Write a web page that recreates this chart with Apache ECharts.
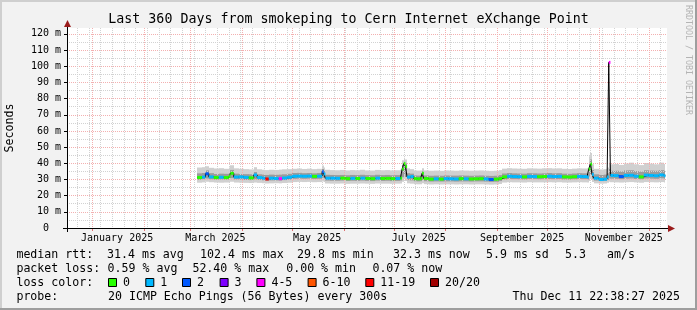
<!DOCTYPE html>
<html><head><meta charset="utf-8">
<script src="https://cdn.jsdelivr.net/npm/echarts@6/dist/echarts.min.js"></script>
<style>html,body{margin:0;padding:0;background:#f2f2f2}#c{width:697px;height:310px}</style>
</head><body><div id="c"></div>
<script>
// ---- data ----
const dates = ['2025-03-05','2025-03-08','2025-03-10','2025-03-12','2025-03-15','2025-03-18','2025-03-21','2025-03-24','2025-03-25','2025-03-27',
'2025-03-30','2025-04-02','2025-04-05','2025-04-08','2025-04-10','2025-04-13','2025-04-15','2025-04-17','2025-04-20','2025-04-23',
'2025-04-25','2025-04-28','2025-05-01','2025-05-04','2025-05-07','2025-05-10','2025-05-13','2025-05-16','2025-05-19','2025-05-20',
'2025-05-21','2025-05-24','2025-05-27','2025-05-30','2025-06-02','2025-06-05','2025-06-08','2025-06-11','2025-06-14','2025-06-17',
'2025-06-20','2025-06-23','2025-06-26','2025-06-29','2025-07-02','2025-07-05','2025-07-06','2025-07-07','2025-07-08','2025-07-09',
'2025-07-11','2025-07-13','2025-07-15','2025-07-17','2025-07-18','2025-07-19','2025-07-22','2025-07-25','2025-07-28','2025-07-31',
'2025-08-03','2025-08-06','2025-08-09','2025-08-12','2025-08-15','2025-08-18','2025-08-21','2025-08-24','2025-08-27','2025-08-30',
'2025-09-02','2025-09-04','2025-09-07','2025-09-10','2025-09-13','2025-09-16','2025-09-19','2025-09-22','2025-09-25','2025-09-28',
'2025-10-01','2025-10-04','2025-10-07','2025-10-10','2025-10-13','2025-10-16','2025-10-19','2025-10-22','2025-10-25','2025-10-26',
'2025-10-27','2025-10-28','2025-10-29','2025-11-01','2025-11-04','2025-11-06','2025-11-07','2025-11-08','2025-11-10','2025-11-13',
'2025-11-16','2025-11-19','2025-11-22','2025-11-25','2025-11-28','2025-12-01','2025-12-04','2025-12-07','2025-12-10','2025-12-11'];
const median = [31.2,31.5,33.5,31.6,31.2,31.4,31.2,32.0,33.8,31.5,
31.6,31.3,31.0,32.8,31.2,30.8,30.3,30.8,30.6,30.5,
30.9,31.4,32.0,32.1,32.0,32.1,31.9,32.0,34.8,33.4,
30.8,30.8,30.7,30.8,30.5,30.7,30.6,30.8,30.6,30.5,
30.8,30.6,30.7,30.5,30.6,30.8,36.5,39.8,38.0,31.5,
31.8,30.5,30.4,30.5,33.8,30.6,30.2,30.4,30.2,30.5,
30.4,30.3,30.5,30.4,30.3,30.4,30.5,30.3,30.0,30.2,
30.6,31.6,32.0,31.8,31.7,31.6,31.9,31.8,31.7,31.8,
32.0,31.8,31.9,31.6,31.5,31.7,31.9,31.8,31.6,36.5,
39.5,33.0,30.8,30.0,30.2,31.5,102.4,32.5,32.4,31.8,
32.5,32.6,32.0,31.6,32.7,32.5,32.3,32.8,32.3,32.3];
const lossCount = [0,1,2,1,0,1,0,0,0,1,
1,1,0,1,1,1,11,1,1,4,
1,1,1,1,1,1,0,1,2,1,
1,1,1,0,0,1,0,1,0,0,
1,0,0,0,1,0,0,0,0,1,
1,0,0,0,0,0,0,1,0,1,
1,1,0,1,0,0,0,1,2,0,
0,0,1,1,1,0,1,1,0,0,
1,1,1,0,0,0,1,1,1,0,
0,1,1,1,1,1,4,1,1,2,
1,1,1,0,1,1,1,1,1,1];
const smokeLo = [28.0,28.2,28.6,28.3,28.1,28.0,28.1,28.2,28.6,28.1,
28.0,27.9,27.8,28.1,27.9,27.7,27.5,27.6,27.7,27.6,
27.8,28.0,28.4,28.5,28.4,28.5,28.3,28.4,28.8,28.5,
27.5,27.4,27.4,27.5,27.3,27.4,27.4,27.5,27.4,27.3,
27.5,27.4,27.4,27.3,27.4,27.5,28.6,30.1,29.1,27.6,
27.4,27.1,27.0,27.1,27.6,27.1,26.9,27.0,26.9,27.0,
27.0,26.9,27.0,27.0,26.9,27.0,27.0,26.9,26.8,26.9,
27.2,28.1,28.3,28.2,28.2,28.1,28.3,28.2,28.2,28.2,
28.3,28.2,28.3,28.1,28.1,28.2,28.3,28.2,28.1,29.1,
30.1,28.4,27.6,27.4,27.5,27.9,28.6,28.3,28.2,28.1,
28.3,28.4,28.2,28.0,28.4,28.3,28.2,28.4,28.2,28.2];
const smokeInLo = [29.8,30.1,30.6,30.1,29.9,30.0,29.9,30.2,30.8,30.0,
29.9,29.7,29.6,30.0,29.7,29.5,29.2,29.4,29.4,29.3,
29.6,29.9,30.4,30.5,30.4,30.5,30.3,30.4,31.0,30.6,
29.3,29.2,29.2,29.3,29.1,29.2,29.1,29.3,29.1,29.0,
29.3,29.1,29.2,29.0,29.1,29.3,31.3,32.8,31.6,29.6,
29.4,28.9,28.8,28.9,29.6,28.9,28.7,28.8,28.7,28.8,
28.8,28.7,28.8,28.8,28.7,28.8,28.8,28.7,28.5,28.6,
29.0,30.0,30.3,30.2,30.1,30.0,30.3,30.2,30.1,30.2,
30.3,30.2,30.3,30.0,29.9,30.1,30.3,30.2,30.0,31.8,
33.3,30.4,29.3,29.0,29.1,29.7,30.8,30.5,30.4,30.2,
30.5,30.6,30.3,30.1,30.6,30.5,30.4,30.7,30.4,30.4];
const smokeInHi = [33.8,34.0,35.6,33.9,33.4,33.6,33.5,34.2,35.9,33.6,
33.4,33.3,33.2,34.6,33.2,33.0,32.8,33.0,32.9,33.0,
33.2,33.5,34.0,34.1,33.9,34.0,33.8,34.0,36.4,35.2,
32.9,32.8,32.7,32.8,32.6,32.8,32.7,32.9,32.7,32.6,
32.9,32.7,32.8,32.6,32.7,33.0,38.9,40.9,39.9,33.9,
33.6,32.5,32.4,32.5,34.9,32.5,32.3,32.4,32.3,32.5,
32.4,32.4,32.5,32.4,32.3,32.4,32.5,32.3,32.2,32.3,
32.7,33.7,34.0,33.8,33.7,33.6,33.9,33.8,33.7,33.8,
34.0,33.8,33.9,33.6,33.5,33.7,33.9,33.8,33.7,40.4,
42.4,35.9,33.2,32.8,33.0,33.9,36.4,35.4,35.4,35.0,
35.6,35.7,35.2,34.9,35.7,35.5,35.4,35.8,35.4,35.4];
const smokeHi = [37.4,37.6,38.2,37.2,36.8,37.0,36.6,37.4,38.8,36.9,
36.6,36.4,36.2,37.6,36.3,36.0,35.8,36.0,35.9,36.1,
36.3,36.4,36.6,36.8,36.5,36.7,36.4,36.6,38.6,37.4,
36.0,35.8,35.7,35.9,35.6,35.8,35.7,36.0,35.6,35.5,
35.9,35.7,35.8,35.6,35.7,36.0,41.9,43.4,42.4,36.9,
36.4,35.6,35.5,35.6,36.9,35.6,35.4,35.5,35.3,35.6,
35.5,35.4,35.6,35.5,35.4,35.5,35.6,35.4,35.3,35.4,
35.8,36.7,37.0,36.8,36.7,36.6,36.9,36.8,36.7,36.9,
37.0,36.8,36.9,36.6,36.5,36.7,36.9,36.8,36.9,44.4,
46.4,39.4,36.6,36.2,36.4,37.4,40.4,39.4,39.6,39.0,
39.9,40.4,39.4,38.9,40.2,39.8,39.4,40.4,39.6,39.6];

const monthStarts = ['2025-01-01','2025-02-01','2025-03-01','2025-04-01','2025-05-01','2025-06-01','2025-07-01','2025-08-01','2025-09-01','2025-10-01','2025-11-01','2025-12-01'];
const xLabelDates = ['2025-01-16','2025-03-16','2025-05-16','2025-07-16','2025-09-16','2025-11-16'];
const xLabelTexts = ['January 2025','March 2025','May 2025','July 2025','September 2025','November 2025'];
const yMajor = [0,10,20,30,40,50,60,70,80,90,100,110,120];
const yMinor = [5,15,25,35,45,55,65,75,85,95,105,115];
const lossBounds = [0,1,2,3,4,6,11,20];
const lossLabels = ['0','1','2','3','4-5','6-10','11-19','20/20'];
const lossColors = ['#26ff00','#00b8ff','#0059ff','#7e00ff','#ff00ff','#ff5500','#ff0000','#a10000'];
const titleText = 'Last 360 Days from smokeping to Cern Internet eXchange Point';
const rttTexts = ['median rtt:','31.4 ms avg','102.4 ms max','29.8 ms min','32.3 ms now','5.9 ms sd','5.3','am/s'];
const lossTexts = ['packet loss:','0.59 % avg','52.40 % max','0.00 % min','0.07 % now'];
const probeTexts = ['probe:','20 ICMP Echo Pings (56 Bytes) every 300s','Thu Dec 11 22:38:27 2025'];

// ---- layout ----
const FONT = 'DejaVu Sans Mono';
const toTs = s => new Date(s + 'T00:00:00').getTime();
const T = dates.map(toTs);
const T0 = new Date('2024-12-16T22:38:27').getTime();
const T1 = new Date('2025-12-11T22:38:27').getTime();
const YMAX = 123.65;
const weekTicks = [];
for (let t = toTs('2024-12-23'); t < T1; t += 7 * 86400000) weekTicks.push(t);
const monthTicks = monthStarts.map(toTs);
const xLabelTs = xLabelDates.map(toTs);

function lossColor(l) {
  let c = lossColors[0];
  for (let k = 0; k < lossBounds.length; k++) if (l >= lossBounds[k]) c = lossColors[k];
  return c;
}
function band(loArr, hiArr, color, z) {
  return {
    type: 'custom', xAxisIndex: 1, yAxisIndex: 1, z: z, clip: true, silent: true,
    data: T.map((t, i) => [t, loArr[i], hiArr[i]]),
    encode: { x: 0, y: [1, 2] },
    renderItem: (params, api) => {
      const i = params.dataIndex;
      if (i >= T.length - 1) return null;
      const a = api.coord([T[i], loArr[i]]);
      const b = api.coord([T[i + 1], hiArr[i]]);
      const x0 = Math.round(a[0]), x1 = Math.round(b[0]);
      return { type: 'rect', shape: { x: x0, y: b[1], width: x1 - x0, height: a[1] - b[1] }, style: { fill: color } };
    }
  };
}

const colXrtt = [16.4, 107, 200, 297, 393, 486, 565, 607];
const colXloss = [16.4, 107.6, 192.4, 286.2, 372.4];
const boxX = [108, 145.3, 182, 219.6, 256.4, 307.6, 365.3, 430];
const rowY = [254.5, 268.5, 282.5, 296.5];
const txt = (text, x, y, extra) => ({ type: 'text', x: x, y: y, z: 100, silent: true,
  style: Object.assign({ text: text, fontFamily: FONT, fontSize: 11.6, fill: '#000', verticalAlign: 'middle', align: 'left' }, extra || {}) });

const graphics = [
  { type: 'rect', shape: { x: 0, y: 0, width: 697, height: 2 }, style: { fill: '#cfcfcf' }, z: 100 },
  { type: 'rect', shape: { x: 0, y: 0, width: 2, height: 310 }, style: { fill: '#cfcfcf' }, z: 100 },
  { type: 'rect', shape: { x: 0, y: 308, width: 697, height: 2 }, style: { fill: '#9e9e9e' }, z: 100 },
  { type: 'rect', shape: { x: 695, y: 0, width: 2, height: 310 }, style: { fill: '#9e9e9e' }, z: 100 },
  { type: 'line', shape: { x1: 67.5, y1: 232, x2: 67.5, y2: 24 }, style: { stroke: '#000', lineWidth: 1 }, z: 100 },
  { type: 'line', shape: { x1: 63, y1: 228.5, x2: 670, y2: 228.5 }, style: { stroke: '#000', lineWidth: 1 }, z: 100 },
  { type: 'polygon', shape: { points: [[64, 27], [71, 27], [67.5, 20]] }, style: { fill: '#9b1c1c' }, z: 101 },
  { type: 'polygon', shape: { points: [[668, 225], [668, 232], [675, 228.5]] }, style: { fill: '#9b1c1c' }, z: 101 },
  txt(titleText, 348.5, 19.5, { align: 'center', fontSize: 13.3 }),
  { type: 'text', x: 10, y: 128, rotation: Math.PI / 2, z: 100, silent: true,
    style: { text: 'Seconds', fontFamily: FONT, fontSize: 11.6, fill: '#000', align: 'center', verticalAlign: 'middle' } },
  { type: 'text', x: 688, y: 60, rotation: -Math.PI / 2, z: 100, silent: true,
    style: { text: 'RRDTOOL / TOBI OETIKER', fontFamily: FONT, fontSize: 8.3, fill: '#b4b4b4', align: 'center', verticalAlign: 'middle' } }
];
rttTexts.forEach((s, k) => graphics.push(txt(s, colXrtt[k], rowY[0])));
lossTexts.forEach((s, k) => graphics.push(txt(s, colXloss[k], rowY[1])));
graphics.push(txt('loss color:', 16.4, rowY[2]));
lossLabels.forEach((s, k) => {
  graphics.push({ type: 'rect', z: 100, shape: { x: boxX[k] + 0.5, y: 278.5, width: 8, height: 8 },
    style: { fill: lossColors[k], stroke: '#000', lineWidth: 1 } });
  graphics.push(txt(s, boxX[k] + 15, rowY[2]));
});
graphics.push(txt(probeTexts[0], 16.4, rowY[3]));
graphics.push(txt(probeTexts[1], 108, rowY[3]));
graphics.push(txt(probeTexts[2], 680, rowY[3], { align: 'right' }));

const chart = echarts.init(document.getElementById('c'), null, { renderer: 'canvas' });
chart.setOption({
  animation: false,
  backgroundColor: '#f2f2f2',
  grid: { left: 67, top: 28, width: 600, height: 200, show: true, backgroundColor: '#ffffff', borderWidth: 0, containLabel: false, outerBoundsMode: 'none' },
  xAxis: [
    { type: 'value', position: 'bottom', min: T0, max: T1, z: 2,
      axisLine: { show: false }, axisTick: { show: false, customValues: weekTicks }, axisLabel: { show: false },
      splitLine: { show: true, lineStyle: { color: '#d2d2d2', type: [1, 1], width: 1 } } },
    { type: 'value', position: 'bottom', min: T0, max: T1, z: 2,
      axisLine: { show: false },
      axisTick: { show: true, length: 3, customValues: monthTicks, lineStyle: { color: '#e07070' } },
      axisLabel: { show: true, customValues: xLabelTs, margin: 5, fontFamily: FONT, fontSize: 10, color: '#000',
        formatter: v => { const k = xLabelTs.indexOf(v); return k >= 0 ? xLabelTexts[k] : ''; } },
      splitLine: { show: true, lineStyle: { color: '#f3b0b0', type: [1, 1], width: 1 } } }
  ],
  yAxis: [
    { type: 'value', position: 'left', min: 0, max: YMAX, z: 2,
      axisLine: { show: false }, axisTick: { show: false, customValues: yMinor }, axisLabel: { show: false },
      splitLine: { show: true, lineStyle: { color: '#d2d2d2', type: [1, 1], width: 1 } } },
    { type: 'value', position: 'left', min: 0, max: YMAX, z: 2,
      axisLine: { show: false },
      axisTick: { show: true, length: 3, customValues: yMajor, lineStyle: { color: '#000' } },
      axisLabel: { show: true, customValues: yMajor, margin: 6, fontFamily: FONT, fontSize: 10, color: '#000',
        formatter: v => v === 0 ? '0  ' : v + ' m' },
      splitLine: { show: true, lineStyle: { color: '#f3b0b0', type: [1, 1], width: 1 } } }
  ],
  series: [
    band(smokeLo, smokeHi, '#d0d0d0', 1),
    band(smokeInLo, smokeInHi, '#9c9c9c', 1),
    { type: 'line', xAxisIndex: 1, yAxisIndex: 1, z: 3, step: 'end', symbol: 'none', silent: true,
      data: T.map((t, i) => [t, median[i]]), lineStyle: { color: '#000', width: 1 } },
    { type: 'custom', xAxisIndex: 1, yAxisIndex: 1, z: 4, clip: true, silent: true,
      data: T.map((t, i) => [t, median[i], lossCount[i]]),
      encode: { x: 0, y: 1 },
      renderItem: (params, api) => {
        const i = params.dataIndex;
        if (i >= T.length - 1) return null;
        const a = api.coord([T[i], median[i]]);
        const b = api.coord([T[i + 1], median[i]]);
        return { type: 'line', shape: { x1: a[0], y1: a[1], x2: b[0], y2: b[1] },
          style: { stroke: lossColor(lossCount[i]), lineWidth: 3, lineCap: 'butt' } };
      } }
  ],
  graphic: graphics
});
</script></body></html>
